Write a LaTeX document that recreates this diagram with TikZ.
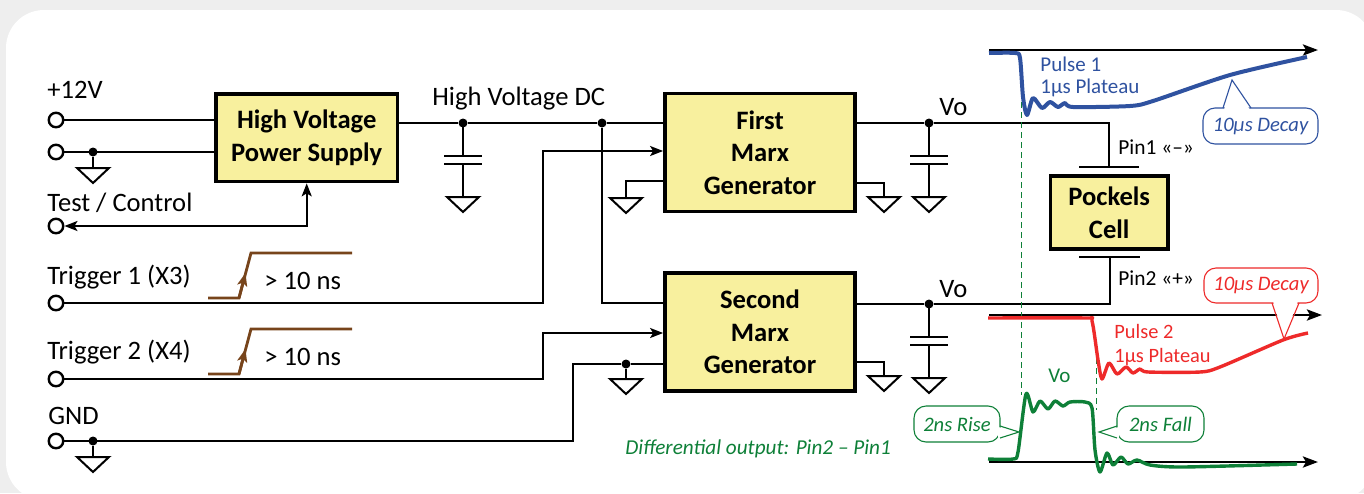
\documentclass[tikz,border=0pt]{standalone}
\usepackage{fontspec}
\setmainfont{Carlito}
\usepackage{xcolor}
\usetikzlibrary{arrows.meta}
\definecolor{boxfill}{HTML}{F8F09E}
\definecolor{pageback}{HTML}{EEEEEE}
\definecolor{wave}{HTML}{77441B}
\definecolor{pulseblue}{HTML}{2F52A0}
\definecolor{pulsered}{HTML}{EE2A2A}
\definecolor{pulsegreen}{HTML}{0E8038}
\tikzset{
	wire/.style={line width=1pt},
	block/.style={draw, fill=boxfill, line width=1.9pt, font=\fontsize{13.3}{16.3}\selectfont\bfseries, align=center, inner sep=0pt},
	term/.style={draw, fill=white, circle, line width=1.2pt, minimum size=14.5*0.5pt, inner sep=0pt},
	jdot/.style={fill, circle, minimum size=9*0.5pt, inner sep=0pt},
	lbl/.style={anchor=west, inner sep=0pt, font=\fontsize{13.3}{16}\selectfont},
	tip/.style={-{Stealth[length=6.5pt, width=5pt, inset=1.5pt]}},
	axis/.style={wire, line width=1.4pt, -{Stealth[length=7.5pt, width=5.5pt, inset=1.5pt]}},
	trace/.style={line width=1.7pt, line join=round},
	guide/.style={pulsegreen, line width=0.45pt, dash pattern=on 3pt off 2pt},
	note/.style={draw, line width=0.55pt, fill=white, rounded corners=6pt, inner sep=0pt, font=\fontsize{10.3}{13}\selectfont\itshape},
	gnd/.pic={
		\draw[wire] (-16,0) -- (16,0) -- (0,15) -- cycle;
		\coordinate (-top) at (0,0);
	},
	capgnd/.pic={
		\draw[wire] (0,0) -- (0,33) (0,41) -- (0,74);
		\draw[wire] (-19,33) -- (19,33) (-19,41) -- (19,41);
		\draw[wire] (-16,74) -- (16,74) -- (0,89) -- cycle;
	},
}
\begin{document}
\begin{tikzpicture}[x=0.5pt, y=-0.5pt]
	\useasboundingbox (0,0) rectangle (1364,493);
	\fill[pageback] (0,0) rectangle (1364,493);
	\fill[white, rounded corners=19pt] (6,10) rectangle (1374,500);

	% blocks
	\node[block, minimum width=90.75pt, minimum height=43.75pt] (hvps) at (306.7,137.7) {High Voltage\\Power Supply};
	\node[block, minimum width=95pt, minimum height=59pt] (marxa) at (760,152.5) {First\\Marx\\Generator};
	\node[block, minimum width=95pt, minimum height=59pt] (marxb) at (760,332) {Second\\Marx\\Generator};
	\node[block, minimum width=58.75pt, minimum height=36.5pt] (cell) at (1109.2,212.5) {Pockels\\Cell};

	% terminals
	\node[term] (tplus) at (56,120) {};
	\node[term] (tret) at (56,152) {};
	\node[term] (ttest) at (56,226) {};
	\node[term] (ttrga) at (56,303) {};
	\node[term] (ttrgb) at (56,379) {};
	\node[term] (tgnd) at (56,441) {};

	% junctions
	\node[jdot] (jret) at (93,152) {};
	\node[jdot] (jgnd) at (93,441) {};
	\node[jdot] (jcap) at (463,123) {};
	\node[jdot] (jdc) at (602,123) {};
	\node[jdot] (jmarx) at (626,364) {};
	\node[jdot] (jvoa) at (929,123) {};
	\node[jdot] (jvob) at (929,304) {};

	% grounds
	\pic (gret) at (93,168) {gnd};
	\pic (ggnd) at (93,457) {gnd};
	\pic (gmarx) at (626,379) {gnd};
	\pic (gal) at (626,198) {gnd};
	\pic (gar) at (884,197) {gnd};
	\pic (gbr) at (884,376) {gnd};
	\pic at (jcap) {capgnd};
	\pic at (jvoa) {capgnd};
	\pic at (jvob) {capgnd};

	% plates of the cell
	\coordinate (pina) at (1109,167);
	\coordinate (pinb) at (1110,257);
	\draw[wire] (1079,167) -- (1139,167);
	\draw[wire] (1079,257) -- (1140,257);

	% wires
	\draw[wire] (tplus) -- (tplus -| hvps.west);
	\draw[wire] (tret) -- (tret -| hvps.west);
	\draw[wire] (jret) -- (gret-top);
	\draw[wire] (jgnd) -- (ggnd-top);
	\draw[wire] (jmarx) -- (gmarx-top);
	\draw[wire, {Stealth[length=6.5pt, width=5pt, inset=1.5pt]}-{Stealth[length=6.5pt, width=5pt, inset=1.5pt]}] (ttest) -| (hvps.south);
	\draw[wire] (jcap -| hvps.east) -- (jcap) -- (jdc) -- (jdc -| marxa.west);
	\draw[wire] (jdc) |- (ttrga -| marxb.west);
	\draw[wire, tip] (ttrga) -- (543,303) |- (marxa.west |- 0,151);
	\draw[wire, tip] (ttrgb) -- (543,379) |- (marxb.west |- 0,333);
	\draw[wire] (tgnd) -- (573,441) |- (jmarx) -- (jmarx -| marxb.west);
	\draw[wire] (marxa.west |- 0,181) -| (gal-top);
	\draw[wire] (marxa.east |- 0,183) -| (gar-top);
	\draw[wire] (marxb.east |- 0,362) -| (gbr-top);
	\draw[wire] (jvoa -| marxa.east) -- (jvoa) -| (pina);
	\draw[wire] (jvob -| marxb.east) -- (jvob) -| (pinb);

	% labels
	\node[lbl] (lplus) at (47,90) {+12V};
	\node[lbl] (ltest) at (47,203) {Test / Control};
	\node[lbl] (ltrga) at (47,277) {Trigger 1 (X3)};
	\node[lbl] (ltrgb) at (47,352) {Trigger 2 (X4)};
	\node[lbl] (lgnd) at (48,416) {GND};
	\node[lbl] (lnsa) at (264,281) {> 10 ns};
	\node[lbl] (lnsb) at (264,357) {> 10 ns};
	\node[lbl] (ldc) at (432,99) {High Voltage DC};
	\node[lbl] (lvoa) at (939,107) {Vo};
	\node[lbl] (lvob) at (939,289) {Vo};
	\node[lbl, font=\fontsize{10.7}{12}\selectfont] (lpina) at (1118,147) {Pin1 «–»};
	\node[lbl, font=\fontsize{10.7}{12}\selectfont] (lpinb) at (1118,278) {Pin2 «+»};

	% trigger edges
	\draw[wave, line width=1.4pt] (208,298) -- (239,298) -- (251,253) -- (352,253);
	\draw[wave, line width=1.4pt, tip] (239,298) -- (245.5,273);
	\draw[wave, line width=1.4pt] (208,374) -- (239,374) -- (251,329) -- (352,329);
	\draw[wave, line width=1.4pt, tip] (239,374) -- (245.5,349);

	% time axes
	\coordinate (axaa) at (989,50);
	\coordinate (axab) at (1318,50);
	\coordinate (axba) at (989,315);
	\coordinate (axbb) at (1322,315);
	\coordinate (axca) at (989,462);
	\coordinate (axcb) at (1318,462);
	\draw[axis] (axaa) -- (axab);
	\draw[axis] (axba) -- (axbb);
	\draw[axis] (axca) -- (axcb);

	% guide lines
	\draw[guide] (1021,82) -- (1021,395);
	\draw[guide] (1096,348) -- (1096,410);

	% pulses
	\draw[pulseblue, trace, line width=2pt] plot[smooth, tension=0.45] coordinates {(989,53) (1015,53) (1020,58) (1023,97) (1027,115) (1033,98) (1042,108) (1050,102) (1058,107) (1065,103) (1073,107) (1130,106) (1153,101) (1230,75) (1307,57)};
	\draw[pulsered, trace] plot[smooth, tension=0.45] coordinates {(988,318) (1085,318) (1092,321) (1098,360) (1102,379) (1109,363) (1117,374) (1126,367) (1133,373) (1140,369) (1148,372) (1200,372) (1220,367) (1283,340) (1308,333)};
	\draw[pulsegreen, trace] plot[smooth, tension=0.45] coordinates {(988,459) (1013,459) (1018,452) (1026,394) (1033,412) (1040,401) (1048,409) (1055,401) (1063,406) (1070,402) (1085,402) (1092,408) (1095,450) (1100,472) (1107,453) (1113,465) (1121,457) (1128,464) (1137,460) (1150,465) (1183,467) (1297,464)};

	\node[lbl, text=pulseblue, font=\fontsize{10.5}{13}\selectfont] (lpa) at (1040,64) {Pulse 1};
	\node[lbl, text=pulseblue, font=\fontsize{10.5}{13}\selectfont] (lpb) at (1040,88) {1µs Plateau};
	\node[lbl, text=pulsered, font=\fontsize{10.2}{13}\selectfont] (lpc) at (1114,331) {Pulse 2};
	\node[lbl, text=pulsered, font=\fontsize{10.2}{13}\selectfont] (lpd) at (1114,357) {1µs Plateau};
	\node[lbl, text=pulsegreen, font=\fontsize{10.5}{13}\selectfont] (lvo) at (1048,376) {Vo};
	\node[lbl, text=pulsegreen, font=\fontsize{10.6}{12}\selectfont\itshape] (ldiff) at (625,449) {Differential output: Pin2 – Pin1};

	% callouts
	\node[note, draw=pulseblue, text=pulseblue, minimum width=57.5pt, minimum height=18pt] (cblue) at (1260.5,126) {10µs Decay};
	\fill[white] (1224,110) -- (1232,80) -- (1250,110) -- cycle;
	\draw[pulseblue, line width=0.55pt] (1223,108) -- (1232,80) -- (1251,108);
	\node[note, draw=pulsered, text=pulsered, minimum width=57pt, minimum height=17.5pt] (cred) at (1261,285.5) {10µs Decay};
	\fill[white] (1273,301) -- (1284,339) -- (1298,301) -- cycle;
	\draw[pulsered, line width=0.55pt] (1272,303) -- (1284,339) -- (1299,303);
	\node[note, draw=pulsegreen, text=pulsegreen, minimum width=43pt, minimum height=18pt] (crise) at (957,424) {2ns Rise};
	\fill[white] (998,427) -- (1019,432) -- (998,437) -- cycle;
	\draw[pulsegreen, line width=0.55pt] (1000,426) -- (1019,432) -- (1000,438);
	\node[note, draw=pulsegreen, text=pulsegreen, minimum width=43.5pt, minimum height=18pt] (cfall) at (1160.5,424) {2ns Fall};
	\fill[white] (1119,427) -- (1099,432) -- (1119,437) -- cycle;
	\draw[pulsegreen, line width=0.55pt] (1117,426) -- (1099,432) -- (1117,438);
\end{tikzpicture}
\end{document}
